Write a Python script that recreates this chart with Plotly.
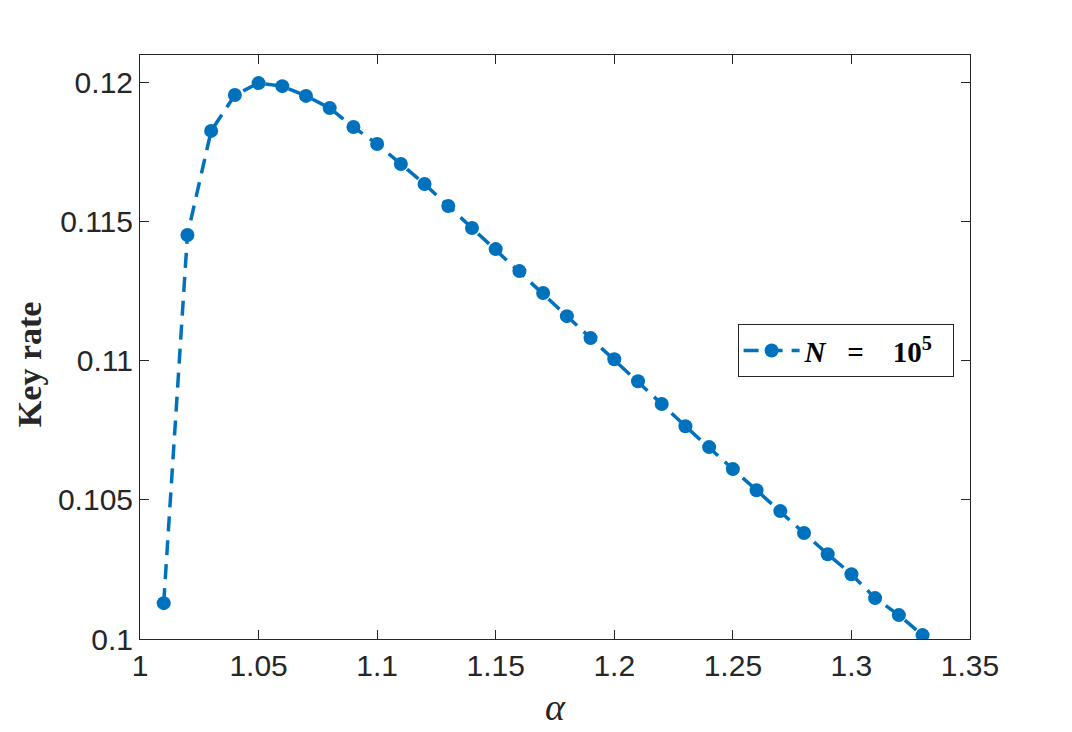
import plotly.graph_objects as go

# alpha values and key rate (N = 1e5)
alpha = [1.01, 1.02, 1.03, 1.04, 1.05, 1.06, 1.07, 1.08, 1.09, 1.10, 1.11,
         1.12, 1.13, 1.14, 1.15, 1.16, 1.17, 1.18, 1.19, 1.20, 1.21, 1.22,
         1.23, 1.24, 1.25, 1.26, 1.27, 1.28, 1.29, 1.30, 1.31, 1.32, 1.33]
key_rate = [0.10129, 0.11453, 0.11827, 0.11956, 0.11999, 0.11988, 0.11953,
            0.11909, 0.11841, 0.11780, 0.11708, 0.11636, 0.11557, 0.11478,
            0.11402, 0.11323, 0.11244, 0.11161, 0.11082, 0.11006, 0.10927,
            0.10845, 0.10765, 0.10690, 0.10611, 0.10535, 0.10460, 0.10381,
            0.10305, 0.10233, 0.10147, 0.10086, 0.10014]

x_ticks = [1, 1.05, 1.1, 1.15, 1.2, 1.25, 1.3, 1.35]
y_ticks = [0.1, 0.105, 0.11, 0.115, 0.12]

blue = "#0072BD"
tick_font = dict(family="Liberation Sans, Arial", size=30, color="#262626")

fig = go.Figure()
fig.add_trace(go.Scatter(
    x=alpha, y=key_rate, mode="lines+markers",
    name="<b><i>N</i>&nbsp;&nbsp;&nbsp;=&nbsp;&nbsp;&nbsp;&nbsp;10<sup>5</sup></b>&nbsp;&nbsp;",
    line=dict(color=blue, width=3.5, dash="15px,9px"),
    marker=dict(color=blue, size=14, symbol="circle"),
))

axis_common = dict(
    showline=True, linecolor="#262626", linewidth=1, mirror="ticks",
    ticks="inside", ticklen=9, tickcolor="#262626", tickwidth=1,
    showgrid=False, zeroline=False, tickfont=tick_font,
)

# page body adds an 8px offset, so margins are shifted to compensate
fig.update_layout(
    width=1072, height=732,
    paper_bgcolor="white", plot_bgcolor="white",
    margin=dict(l=132, r=110, t=47, b=101),
    xaxis=dict(range=[1, 1.35], tickvals=x_ticks,
               ticktext=[f"{v:g}" for v in x_ticks],
               title=dict(text="<i>α</i>", standoff=12,
                          font=dict(family="Liberation Serif", size=38, color="#262626")),
               **axis_common),
    yaxis=dict(range=[0.1, 0.121], tickvals=y_ticks,
               ticktext=[f"{v:g}" for v in y_ticks],
               **axis_common),
    showlegend=True,
    legend=dict(x=0.72, y=0.539, xanchor="left", yanchor="top",
                bordercolor="#262626", borderwidth=1, bgcolor="white",
                itemwidth=56,
                font=dict(family="Liberation Serif", size=29, color="black")),
)

# y-axis label placed by hand (MATLAB puts it slightly below centre)
fig.add_annotation(
    text="<b>Key rate</b>", textangle=-90,
    xref="paper", yref="paper", x=-0.133, y=0.47,
    xanchor="center", yanchor="middle", showarrow=False,
    font=dict(family="Liberation Serif", size=34, color="#262626"),
)

fig.write_html("out.html")
